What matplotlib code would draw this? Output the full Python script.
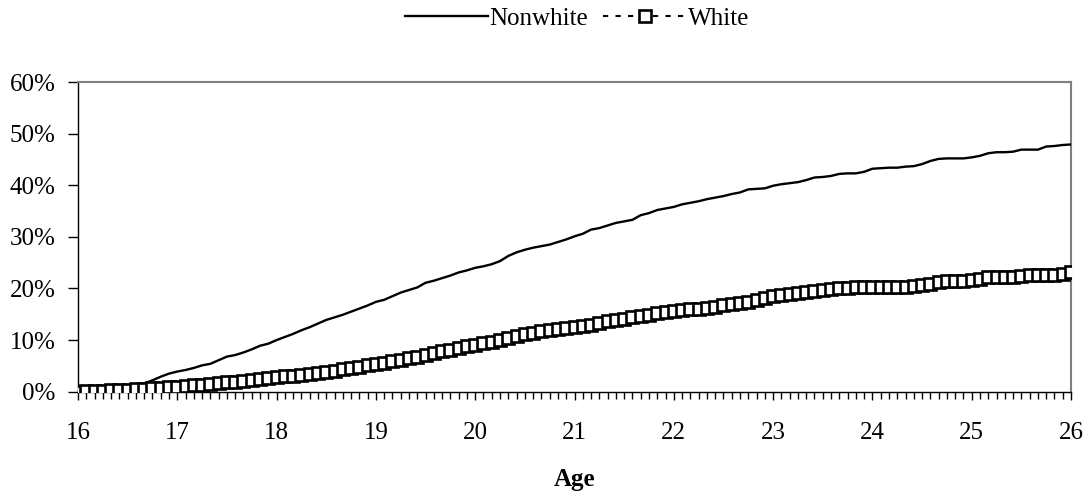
import numpy as np
import matplotlib
matplotlib.use("Agg")
import matplotlib.pyplot as plt
from matplotlib.ticker import MultipleLocator, FuncFormatter

# Age in monthly steps from 16 to 26
age_start = 16
months = 121

nonwhite = [
    0.3, 0.4, 0.5, 0.6, 0.7, 0.8, 1.0, 1.2, 1.6, 2.2, 2.9, 3.5,
    3.9, 4.2, 4.6, 5.1, 5.4, 6.1, 6.8, 7.1, 7.6, 8.2, 8.9, 9.3,
    10.0, 10.6, 11.2, 11.9, 12.5, 13.2, 13.9, 14.4, 14.9, 15.5, 16.1, 16.7,
    17.4, 17.8, 18.5, 19.2, 19.7, 20.2, 21.1, 21.5, 22.0, 22.5, 23.1, 23.5,
    24.0, 24.3, 24.7, 25.3, 26.3, 27.0, 27.5, 27.9, 28.2, 28.5, 29.0, 29.5,
    30.1, 30.6, 31.4, 31.7, 32.2, 32.7, 33.0, 33.3, 34.2, 34.6, 35.2, 35.5,
    35.8, 36.3, 36.6, 36.9, 37.3, 37.6, 37.9, 38.3, 38.6, 39.2, 39.3, 39.4,
    39.9, 40.2, 40.4, 40.6, 41.0, 41.5, 41.6, 41.8, 42.2, 42.3, 42.3, 42.6,
    43.2, 43.3, 43.4, 43.4, 43.6, 43.7, 44.1, 44.7, 45.1, 45.2, 45.2, 45.2,
    45.4, 45.7, 46.2, 46.4, 46.4, 46.5, 46.9, 46.9, 46.9, 47.5, 47.6, 47.8,
    47.9,
]

white = [
    0.0, 0.1, 0.2, 0.2, 0.3, 0.3, 0.4, 0.5, 0.6, 0.7, 0.8, 0.9,
    1.0, 1.1, 1.2, 1.3, 1.5, 1.6, 1.8, 1.9, 2.1, 2.3, 2.5, 2.7,
    2.8, 3.0, 3.1, 3.3, 3.5, 3.7, 3.9, 4.1, 4.3, 4.6, 4.8, 5.1,
    5.4, 5.6, 5.9, 6.2, 6.5, 6.8, 7.2, 7.5, 7.8, 8.1, 8.5, 8.8,
    9.1, 9.4, 9.7, 10.0, 10.4, 10.8, 11.1, 11.4, 11.7, 11.9, 12.1, 12.3,
    12.5, 12.7, 13.0, 13.3, 13.6, 13.8, 14.1, 14.4, 14.7, 14.9, 15.2, 15.5,
    15.6, 15.8, 16.0, 16.1, 16.3, 16.5, 16.7, 16.9, 17.1, 17.4, 17.8, 18.2,
    18.6, 18.8, 19.0, 19.2, 19.4, 19.5, 19.7, 19.8, 20.0, 20.1, 20.2, 20.3,
    20.3, 20.3, 20.3, 20.3, 20.3, 20.4, 20.6, 20.9, 21.2, 21.4, 21.4, 21.5,
    21.7, 21.9, 22.2, 22.3, 22.3, 22.3, 22.4, 22.6, 22.6, 22.6, 22.6, 22.8,
    23.2,
]

x_ticks = list(range(16, 27))
y_ticks = [0, 10, 20, 30, 40, 50, 60]

ages = age_start + np.arange(months) / 12.0

plt.rcParams['font.family'] = ['Liberation Serif', 'DejaVu Serif']

fig = plt.figure(figsize=(10.89, 4.98), dpi=100)
ax = fig.add_axes([0.0716, 0.2135, 0.9119, 0.6218])

ax.plot(ages, nonwhite, color='black', lw=1.7, label='Nonwhite', zorder=3)
ax.plot(ages, white, color='black', lw=1.5, linestyle=(0, (2.5, 3.5)),
        marker='s', markersize=8, markerfacecolor='white',
        markeredgecolor='black', markeredgewidth=1.9, label='White', zorder=4)

ax.set_xlim(16, 26)
ax.set_ylim(0, 60)
ax.set_xticks(x_ticks)
ax.xaxis.set_minor_locator(MultipleLocator(1 / 12))
ax.set_yticks(y_ticks)
ax.yaxis.set_major_formatter(FuncFormatter(lambda v, p: f"{int(v)}%"))

ax.tick_params(axis='x', which='major', direction='out', length=6, width=1,
               labelsize=18, pad=16)
ax.tick_params(axis='x', which='minor', direction='out', length=5, width=1)
ax.tick_params(axis='y', which='major', direction='out', length=7, width=1,
               labelsize=18, pad=9)

for s in ['top', 'right']:
    ax.spines[s].set_color('#808080')
    ax.spines[s].set_linewidth(1.5)
for s in ['left', 'bottom']:
    ax.spines[s].set_color('black')
    ax.spines[s].set_linewidth(1.0)

ax.set_xlabel('Age', fontsize=18, fontweight='bold', labelpad=17)

fig.legend(loc='center', bbox_to_anchor=(0.530, 0.962), ncol=2, frameon=False,
           fontsize=18, handlelength=3.3, handletextpad=0.08,
           columnspacing=0.6, numpoints=1)

fig.savefig('out.png', dpi=100)
